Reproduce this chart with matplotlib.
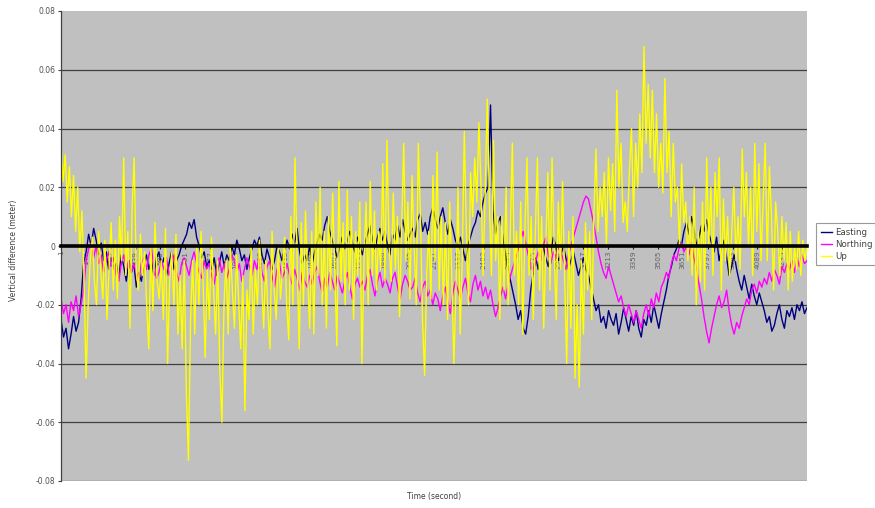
import numpy as np
import matplotlib
matplotlib.use("Agg")
import matplotlib.pyplot as plt

# ---- data (millimetres) ----
easting_mm = [
    -25, -31, -28, -35, -30, -24, -29, -26, -18, -6,
    -2, 4, 0, 6, 2, -3, 1, -5, -2, -8,
    -4, -8, -6, -11, -3, -7, -12, -5, -9, -6,
    -14, -9, -12, -6, -3, -8, -5, -10, -4, -2,
    -7, -4, -10, -6, -2, -8, -5, -3, 0, 2,
    4, 8, 6, 9, 3, 0, -4, -2, -7, -5,
    -8, -4, -10, -6, -2, -7, -3, -5, 0, -3,
    2, -1, -5, -3, -8, -4, -1, 2, 0, 3,
    -3, -6, -1, -4, -8, -5, 0, -2, -5, -1,
    2, -1, 4, 1, 6, -2, -6, -3, -5, 0,
    -6, -2, 1, 4, 2, 7, 10, 5, 2, -1,
    -4, 0, 3, -1, 2, 5, 1, -2, 3, 0,
    -3, 1, 4, 7, 2, -1, 3, 6, 2, 5,
    0, -3, 4, 2, 7, 3, 9, 5, 2, 4,
    6, 3, 9, 11, 5, 8, 4, 10, 13, 9,
    6, 10, 13, 8, 4, 9, 6, 2, 0, 3,
    -1, -5, 0, 3, 6, 8, 12, 10, 15, 18,
    20, 48, 12, 4, 8, 10, 2, -3, -8, -12,
    -16, -20, -25, -22, -28, -30, -24, -15, -9, -4,
    -8, -3, 0, -4, -7, -2, 3, 0, -5, -3,
    0, -4, -8, -5, -2, -6, -10, -7, -4, -8,
    -10, -14, -18, -22, -20, -26, -24, -28, -22, -25,
    -27, -23, -30, -26, -21, -25, -29, -24, -27, -22,
    -28, -31, -25, -27, -22, -26, -20, -24, -28, -23,
    -19, -15, -10, -7, -3, -1, 2, 0, 5, 8,
    4, 10, 6, 0, 3, 7, 5, 9, 4, 1,
    -2, 3, -5, -1, 2, -4, -10, -7, -3, -8,
    -12, -15, -10, -14, -18, -13, -17, -20, -16, -19,
    -22, -26, -24, -29, -27, -23, -20, -25, -28, -22,
    -24, -21, -25, -20, -22, -19, -23, -21,
]

northing_mm = [
    -18, -23, -20, -26, -19, -22, -17, -24, -20, -15,
    -5, -1, 1, -4, 0, -6, -3, -9, -5, -2,
    -7, -4, -10, -12, -6, -3, -8, -5, -9, -6,
    -9, -12, -6, -4, -8, -3, -1, -7, -11, -9,
    -5, -8, -4, -10, -7, -3, -9, -12, -6, -4,
    -7, -10, -5, -2, -6, -9, -11, -5, -8, -6,
    -10, -13, -7, -4, -9, -6, -11, -8, -3, -5,
    -9, -6, -12, -8, -4, -7, -10, -5, -8, -3,
    -9, -12, -7, -5, -10, -14, -8, -6, -11, -9,
    -6, -10, -13, -8, -11, -15, -9, -12, -14, -10,
    -13, -9, -7, -12, -16, -11, -14, -9, -12, -15,
    -10, -13, -16, -12, -9, -14, -18, -13, -11, -14,
    -12, -15, -10, -8, -13, -17, -12, -9, -14, -11,
    -13, -16, -11, -9, -14, -18, -13, -10, -12, -15,
    -14, -11, -16, -19, -14, -12, -17, -15, -20, -16,
    -18, -22, -17, -14, -19, -23, -16, -12, -15, -18,
    -14, -11, -16, -19, -13, -10, -15, -12, -17, -14,
    -18, -15, -20, -24, -21, -17, -14, -18, -13, -10,
    -7, -4, -1, 2, 5, 1, -3, -6, -9, -5,
    -2, -5, 0, 3, -3, -6, -2, -4, 0, -2,
    -5, -8, -3, 0, 3, 6, 9, 12, 15, 17,
    16, 12, 8, 3, -2, -6, -9, -11, -7, -10,
    -13, -16, -19, -17, -21, -24, -20, -23, -26, -22,
    -25, -28, -23, -20, -24, -18, -21, -16, -19, -14,
    -12, -9, -11, -6, -3, -5, -1, 1, -2, 0,
    -3, 1, -4, -8, -13, -18, -24, -29, -33, -28,
    -24, -20, -17, -21, -19, -15, -22, -27, -30, -26,
    -28, -24, -21, -18, -20, -15, -13, -16, -12, -14,
    -11, -13, -9, -12, -8, -10, -13, -7, -9, -6,
    -8, -5, -9, -4, -7, -3, -6, -5,
]

up_mm = [
    35, 22, 31, 15, 27, 10, 24, 5, 20, -2, 12, -10,
    -45, -20, -5, 3, -12, -20, 5, -8, -18, 2, -25, -8,
    8, -15, 2, -18, 10, -5, 30, -10, 5, -28, 12, 30,
    -8, -15, 4, -10, -2, -20, -35, 0, -22, 8, -12, -18,
    -5, -25, 6, -40, -12, -2, -20, 4, -30, -10, -35, -5,
    -50, -73, -25, -5, -30, 0, -20, 5, -12, -38, -8, -25,
    3, -15, -30, -5, -42, -60, -20, -5, -30, 0, -15, -28,
    -3, -18, -35, -10, -56, -15, -25, 0, -30, -8, -20, 2,
    -12, -28, -5, -22, -35, 5, -15, -25, 0, -18, -8, 3,
    -20, -32, 10, -20, 30, -5, -35, 8, -20, 12, -10, -28,
    5, -30, 15, -10, 20, -20, 5, -28, 10, -15, 18, -8,
    -34, 22, -12, 8, -20, 19, -15, 10, -25, 5, -10, 15,
    -40, -5, 15, -20, 22, -10, 12, -15, 5, -8, 28, -12,
    36, 0, -12, 18, -8, 10, -24, 5, 35, -5, 15, -18,
    24, 0, -20, 35, 10, -25, -44, -10, 5, -18, 24, -5,
    32, -15, 10, -20, 8, -25, 15, -10, -40, -15, 20, -30,
    -5, 39, 5, -20, 25, 10, 30, 15, 42, 20, -10, 18,
    50, 15, -10, 36, -5, 10, -25, 10, -15, 20, -20, 5,
    35, -10, 5, -20, 15, -30, 5, 30, -10, 10, -25, 5,
    30, -15, 10, -28, 0, 25, -15, 30, 0, -25, 15, -8,
    22, -10, -40, 5, -28, 10, -45, -20, -48, -5, -30, 8,
    -15, 5, -25, 10, 33, 5, 20, 10, 25, 0, 30, 12,
    28, 5, 53, 20, 35, 8, 15, 5, 25, 40, 10, 35,
    20, 45, 25, 68, 35, 55, 30, 53, 25, 45, 20, 35,
    18, 57, 25, 39, 10, 35, 15, 20, 0, 28, 8, 15,
    -5, 10, -10, 20, -20, 5, -12, 15, -15, 30, 0, 20,
    -10, 25, 10, 30, -15, 16, -5, 10, -10, 5, 20, -5,
    10, -8, 33, 10, 25, 0, 20, -10, 35, 5, 28, -5,
    15, 35, -5, 27, 10, -15, 15, 5, -10, 10, -5, 8,
    -15, 5, -12, 0, -8, 5, -10, 2, -5, 0,
]

time_labels = ['1', '147', '293', '439', '585', '731', '877', '1023', '1169',
               '1315', '1461', '1607', '1753', '1899', '2045', '2191', '2337',
               '2483', '2629', '2775', '2921', '3067', '3213', '3359', '3505',
               '3651', '3797', '3943', '4089', '4235']
y_tick_values = [-0.08, -0.06, -0.04, -0.02, 0, 0.02, 0.04, 0.06, 0.08]
y_tick_labels = ['-0.08', '-0.06', '-0.04', '-0.02', '0', '0.02', '0.04', '0.06', '0.08']
series_names = ['Easting', 'Northing', 'Up']
series_colors = ['#000080', '#FF00FF', '#FFFF00']

T_END = 4380

fig = plt.figure(figsize=(8.75, 5.08), dpi=100)
ax = fig.add_axes([61 / 875, 1 - 481 / 508, (807 - 61) / 875, (481 - 11) / 508])
ax.set_facecolor('#C0C0C0')

for name, vals, col in zip(series_names, [easting_mm, northing_mm, up_mm], series_colors):
    v = np.array(vals, dtype=float) / 1000.0
    t = np.linspace(1, T_END, len(v))
    ax.plot(t, v, color=col, lw=1.0, label=name, zorder=2)

# spine first (it resets ticks), then tick styling
ax.spines['bottom'].set_position(('data', 0))
ax.spines['bottom'].set_linewidth(2.6)
ax.spines['bottom'].set_color('black')
ax.spines['bottom'].set_zorder(5)
ax.spines['top'].set_visible(False)
ax.spines['right'].set_visible(False)
ax.spines['left'].set_color('#404040')
ax.spines['left'].set_linewidth(0.9)

ax.set_xlim(1, T_END)
ax.set_ylim(-0.08, 0.08)
ax.set_yticks(y_tick_values)
ax.set_yticklabels(y_tick_labels)
for y in y_tick_values[:-1]:
    if y != 0:
        ax.axhline(y, color='#404040', lw=0.9, zorder=1)

ax.set_xticks([int(s) for s in time_labels])
ax.set_xticklabels(time_labels)
ax.tick_params(axis='x', length=2, pad=1.5, color='#202020', labelrotation=90,
               labelsize=5.2, labelcolor='#606060')
ax.tick_params(axis='y', length=2, pad=2, color='#404040', labelsize=5.5,
               labelcolor='#505050')
for lbl in ax.get_xticklabels():
    lbl.set_zorder(6)

fig.text(434 / 875, 1 - 497 / 508, 'Time (second)', ha='center', va='center',
         fontsize=5.5, color='#404040')
fig.text(14 / 875, 1 - 250 / 508, 'Vertical difference (meter)', ha='center', va='center',
         rotation=90, fontsize=5.5, color='#404040')

leg = fig.legend(loc='upper left', bbox_to_anchor=(812 / 875, 1 - 219 / 508),
                 fontsize=6.2, frameon=True, fancybox=False, handlelength=1.3,
                 handletextpad=0.4, borderpad=0.5, labelspacing=0.35)
leg.get_frame().set_edgecolor('#808080')
leg.get_frame().set_linewidth(0.8)
for txt in leg.get_texts():
    txt.set_color('#404040')

fig.savefig('out.png', dpi=100, facecolor='white')
